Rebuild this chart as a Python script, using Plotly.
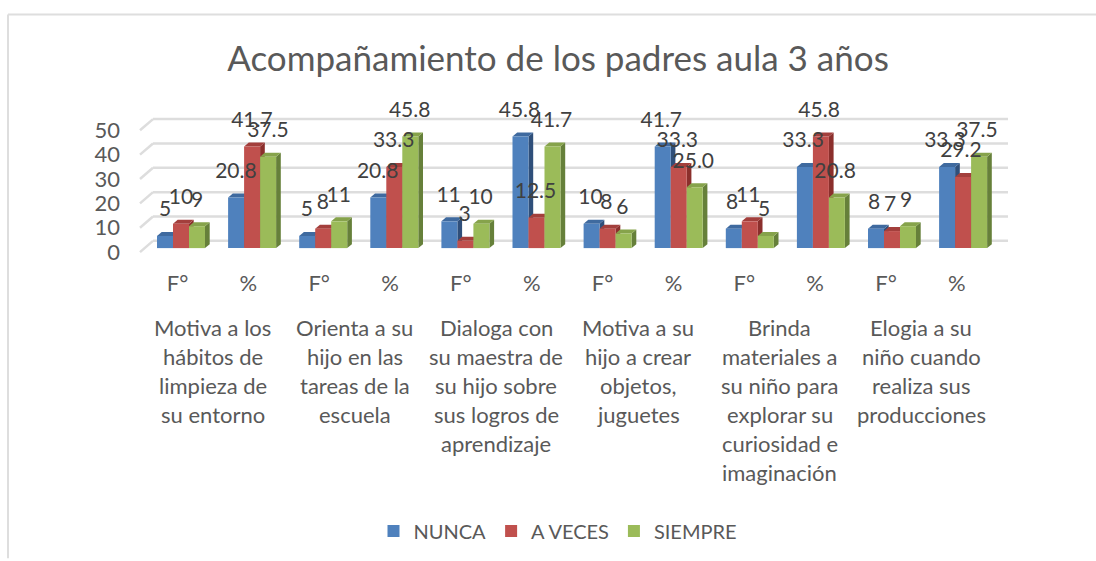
import plotly.graph_objects as go

# ---- data ----
TITLE = "Acompañamiento de los padres aula 3 años"
tick_labels = ["F°", "%"] * 6
group_lines = [
    ["Motiva a los", "hábitos de", "limpieza de", "su entorno"],
    ["Orienta a su", "hijo en las", "tareas de la", "escuela"],
    ["Dialoga con", "su maestra de", "su hijo sobre", "sus logros de", "aprendizaje"],
    ["Motiva a su", "hijo a crear", "objetos,", "juguetes"],
    ["Brinda", "materiales a", "su niño para", "explorar su", "curiosidad e", "imaginación"],
    ["Elogia a su", "niño cuando", "realiza sus", "producciones"],
]
nunca = [5, 20.8, 5, 20.8, 11, 45.8, 10, 41.7, 8, 33.3, 8, 33.3]
a_veces = [10, 41.7, 8, 33.3, 3, 12.5, 8, 33.3, 11, 45.8, 7, 29.2]
siempre = [9, 37.5, 11, 45.8, 10, 41.7, 6, 25.0, 5, 20.8, 9, 37.5]
y_ticks = [0, 10, 20, 30, 40, 50]

series = [
    ("NUNCA", nunca, "#4F81BD", "#2F4F7A", "#3F6A9F"),
    ("A VECES", a_veces, "#C0504D", "#8B2F2C", "#A33F3C"),
    ("SIEMPRE", siempre, "#9BBB59", "#66803A", "#86A34B"),
]

# ---- layout constants (pixels) ----
W, H = 1096, 561
PX_CAT = 71.1
PX_UNIT = 2.45
X0_PX, Y0_PX = 181, 249
L, R, T, B = 125, 1015, 100, 268
ux = 1 / PX_CAT
uy = 1 / PX_UNIT
bar_w = 16 * ux
depth_x, depth_y = 4.7 * ux, 4 * uy
floor_back_x, floor_back_y = 153, 241.7
floor_front_x, floor_front_y = 140, 253
grid_right = 1008
label_gap = 25 * uy


def tick_shift(i):
    return (-3.5 - 0.25 * i) * ux


def xd(px):
    return (px - X0_PX) * ux


def yd(px):
    return (Y0_PX - px) * uy


fig = go.Figure()
shapes = []

# wall and side gridlines
for v in y_ticks:
    yb = yd(floor_back_y) + v
    yf = yd(floor_front_y) + v
    shapes.append(dict(type="line", xref="x", yref="y", layer="below",
                       x0=xd(floor_front_x), y0=yf, x1=xd(floor_back_x), y1=yb,
                       line=dict(color="#DDDDDD", width=2.5)))
    shapes.append(dict(type="line", xref="x", yref="y", layer="below",
                       x0=xd(floor_back_x), y0=yb, x1=xd(grid_right), y1=yb,
                       line=dict(color="#DDDDDD", width=2.5)))


def poly(pts, color):
    path = "M " + " L ".join(f"{x:.4f},{y:.4f}" for x, y in pts) + " Z"
    return dict(type="path", xref="x", yref="y", layer="below", path=path,
                fillcolor=color, line=dict(width=0))


# depth faces of each bar, derived from the values
for s_idx, (name, vals, front, side, top) in enumerate(series):
    for i, v in enumerate(vals):
        xl = i + (s_idx - 1.5) * bar_w
        xr = xl + bar_w
        shapes.append(poly([(xr, 0), (xr + depth_x, depth_y), (xr + depth_x, v + depth_y), (xr, v)], side))
        shapes.append(poly([(xl, v), (xl + depth_x, v + depth_y), (xr + depth_x, v + depth_y), (xr, v)], top))

xs = list(range(12))
for name, vals, front, side, top in series:
    fig.add_bar(x=xs, y=vals, name=name, marker=dict(color=front, line=dict(width=0)))

# data labels
for s_idx, (name, vals, front, side, top) in enumerate(series):
    fig.add_scatter(
        x=[i + (s_idx - 1) * bar_w - 0.2 * i * ux for i in xs],
        y=[v + label_gap for v in vals],
        mode="text",
        text=[f"{v:.0f}" if i % 2 == 0 else f"{v:.1f}" for i, v in enumerate(vals)],
        textposition="middle center",
        textfont=dict(family="Lato", size=21, color="#404040"),
        cliponaxis=False,
        showlegend=False,
        hoverinfo="skip",
    )

# frame
shapes.append(dict(type="line", xref="paper", yref="paper", layer="below",
                   x0=(8 - L) / (R - L), x1=(8 - L) / (R - L),
                   y0=(B - 561) / (B - T), y1=(B - 14) / (B - T),
                   line=dict(color="#DEDEDE", width=2)))
shapes.append(dict(type="line", xref="paper", yref="paper", layer="below",
                   x0=(8 - L) / (R - L), x1=(1096 - L) / (R - L),
                   y0=(B - 14) / (B - T), y1=(B - 14) / (B - T),
                   line=dict(color="#DEDEDE", width=2)))

# multi-line group labels
LINE_Y0, LINE_STEP = 329, 29.2
annotations = []
for g, lines in enumerate(group_lines):
    for n, line in enumerate(lines):
        annotations.append(dict(
            x=2 * g + 0.5 + tick_shift(2 * g + 0.5), xref="x",
            y=(B - (LINE_Y0 + n * LINE_STEP)) / (B - T), yref="paper",
            text=line, showarrow=False, xanchor="center", yanchor="middle",
            font=dict(family="Lato", size=22, color="#595959"),
        ))

fig.update_layout(
    width=W, height=H,
    margin=dict(l=L, r=W - R, t=T, b=H - B, pad=0),
    paper_bgcolor="white", plot_bgcolor="rgba(0,0,0,0)",
    barmode="group", bargap=1 - 3 * bar_w, bargroupgap=0,
    title=dict(text=TITLE, x=558 / W, xanchor="center", y=1 - 59 / H, yanchor="middle",
               font=dict(family="Lato", size=35, color="#595959")),
    showlegend=True,
    legend=dict(orientation="h", x=0.5 - 12 / (R - L), xanchor="center", y=(B - 531) / (B - T), yanchor="middle",
                font=dict(family="Lato", size=20, color="#595959"), traceorder="normal"),
    shapes=shapes, annotations=annotations,
    xaxis=dict(range=[xd(L), xd(R)], tickmode="array", tickvals=[i + tick_shift(i) for i in xs],
               ticktext=tick_labels, showgrid=False, zeroline=False, showline=False, ticks="",
               tickfont=dict(family="Lato", size=22, color="#595959"), ticklabelstandoff=1),
    yaxis=dict(range=[yd(B), yd(T)], tickmode="array",
               tickvals=[yd(floor_front_y) + v for v in y_ticks], ticktext=[str(v) for v in y_ticks],
               showgrid=False, zeroline=False, showline=False, ticks="", ticklabelstandoff=4,
               tickfont=dict(family="Lato", size=22, color="#595959")),
)

fig.write_html("out.html", config={"displayModeBar": False},
               post_script="document.body.style.margin='0';")
